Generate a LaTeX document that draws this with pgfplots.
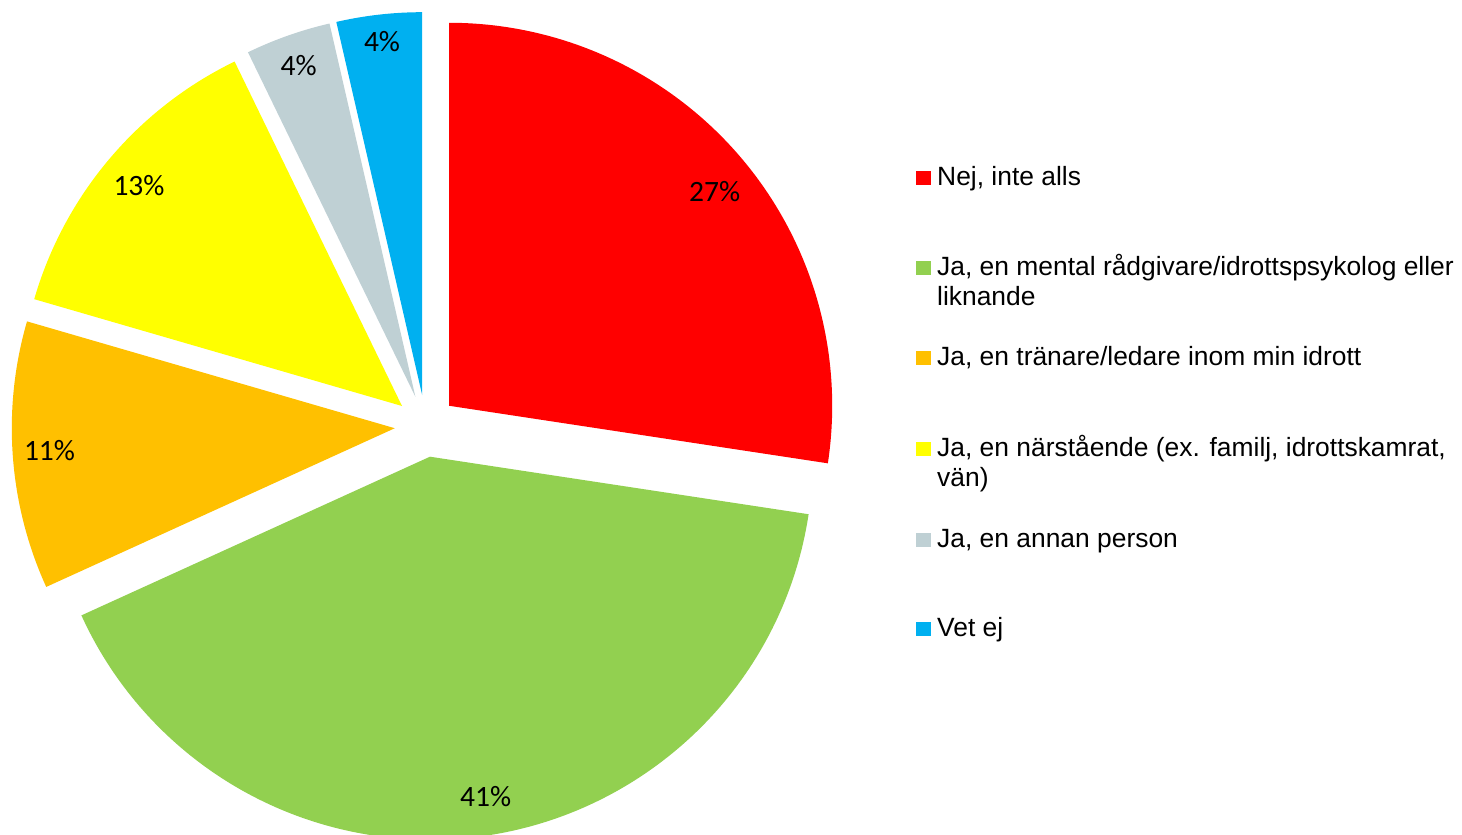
\documentclass[border=0pt]{standalone}
\usepackage{pgfplots}
\pgfplotsset{compat=1.18}
\usepackage{fontspec}
\setmainfont{Liberation Sans}
\newfontfamily\calfont{Carlito}
\definecolor{cRed}{HTML}{FF0000}
\definecolor{cGreen}{HTML}{92D050}
\definecolor{cOrange}{HTML}{FFC000}
\definecolor{cYellow}{HTML}{FFFF00}
\definecolor{cGray}{HTML}{BFD0D4}
\definecolor{cBlue}{HTML}{00B0F0}
\newcommand\lblfont{\calfont\fontsize{29.5pt}{34pt}\selectfont}
\newcommand\legfont{\fontsize{26.4pt}{30pt}\selectfont}
\begin{document}
\begin{tikzpicture}
\begin{axis}[width=1462pt,height=835pt,scale only axis,
  xmin=0,xmax=1462,ymin=0,ymax=835,hide axis,clip=false]
\coordinate (SW) at (axis cs:0,0);
\coordinate (NE) at (axis cs:1462,835);
\xdef\cum{0}
% value / colour / label angle offset / label radius
\foreach \v/\col/\lo/\lr in {27.4/cRed/-1.8/341,40.8/cGreen/1.4/344,11.3/cOrange/-0.5/346,13.3/cYellow/0.2/343,3.6/cGray/0/351,3.6/cBlue/0/356}{%
  \pgfmathsetmacro\aone{90-3.6*\cum}%
  \pgfmathsetmacro\atwo{\aone-3.6*\v}%
  \pgfmathsetmacro\amid{(\aone+\atwo)/2}%
  \pgfmathsetmacro\vx{425.7+31*cos(\amid)}%
  \pgfmathsetmacro\vy{409+31*sin(\amid)}%
  \pgfmathsetmacro\lx{\vx+\lr*cos(\amid+\lo)}%
  \pgfmathsetmacro\ly{\vy+\lr*sin(\amid+\lo)}%
  \pgfmathtruncatemacro\rv{round(\v)}%
  \edef\temp{\noexpand\fill[\col] (axis cs:\vx,\vy) -- ++(\aone:383pt) arc[start angle=\aone, end angle=\atwo, radius=383pt] -- cycle;
    \noexpand\node[font=\noexpand\lblfont,text=black,inner sep=0pt] at (axis cs:\lx,\ly) {\rv\noexpand\%};}%
  \temp
  \pgfmathsetmacro\newcum{\cum+\v}%
  \xdef\cum{\newcum}%
}
% legend
\foreach \yb/\col/\ta/\tb in {
  186/cRed/{Nej, inte alls}/{},
  276/cGreen/{Ja, en mental rådgivare/idrottspsykolog eller}/{liknande},
  366/cOrange/{Ja, en tränare/ledare inom min idrott}/{},
  457/cYellow/{Ja, en närstående (ex. familj, idrottskamrat,}/{vän)},
  548/cGray/{Ja, en annan person}/{},
  637/cBlue/{Vet ej}/{}}{%
  \pgfmathsetmacro\ya{835-\yb}%
  \pgfmathsetmacro\yc{835-\yb-30}%
  \pgfmathsetmacro\sqb{835-\yb+0.5}%
  \pgfmathsetmacro\sqt{835-\yb+15.2}%
  \edef\temp{\noexpand\fill[\col] (axis cs:916,\sqb) rectangle (axis cs:930.7,\sqt);
    \noexpand\node[anchor=base west,inner sep=0pt,font=\noexpand\legfont] at (axis cs:937,\ya) {\unexpanded\expandafter{\ta}};
    \noexpand\node[anchor=base west,inner sep=0pt,font=\noexpand\legfont] at (axis cs:937,\yc) {\unexpanded\expandafter{\tb}};}%
  \temp
}
\end{axis}
\pgfresetboundingbox
\path[use as bounding box] (SW) rectangle (NE);
\end{tikzpicture}
\end{document}
